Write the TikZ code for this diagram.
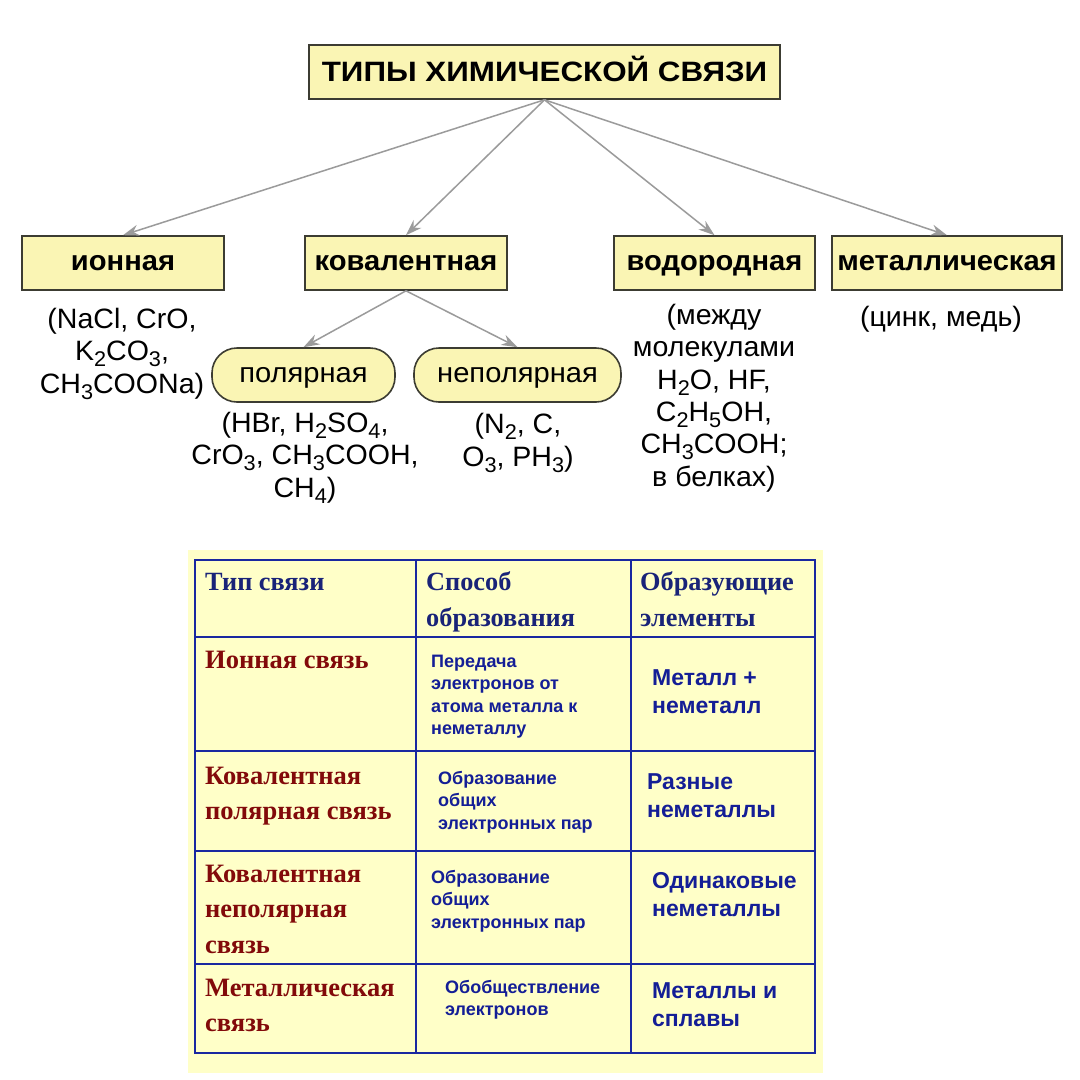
\documentclass[tikz,border=0pt]{standalone}
\usepackage{fontspec}
\usepackage{graphicx}
\setmainfont{Liberation Sans}
\newfontfamily\tnr{Liberation Serif}
\newfontfamily\widesans{Liberation Sans}[FakeStretch=1.12]
\newfontfamily\boxsans{Liberation Sans}[FakeStretch=1.04]
\newfontfamily\exsans{Liberation Sans}[FakeStretch=1.02]
\usetikzlibrary{arrows.meta}
\definecolor{boxfill}{RGB}{250,245,180}
\definecolor{boxdraw}{RGB}{60,60,50}
\definecolor{arrowgray}{RGB}{155,155,155}
\definecolor{tabfill}{RGB}{255,255,200}
\definecolor{tabline}{RGB}{25,40,160}
\definecolor{navy}{RGB}{25,35,120}
\definecolor{tblue}{RGB}{20,30,150}
\definecolor{dred}{RGB}{130,10,10}
\newcommand\sbs[1]{\raisebox{-0.22em}{\scalebox{0.76}{#1}}}
\begin{document}
\begin{tikzpicture}[x=1pt,y=-1pt,
  box/.style={draw=boxdraw, line width=1.6pt, fill=boxfill, minimum height=54pt, inner sep=0pt, text height=20pt, text depth=6pt, font=\boxsans\fontsize{28}{32}\selectfont\bfseries},
  pill/.style={draw=boxdraw, line width=1.6pt, fill=boxfill, rounded corners=25pt, minimum height=54pt, inner sep=0pt, text height=20pt, text depth=5pt, font=\boxsans\fontsize{28}{32}\selectfont},
  ex/.style={align=center, inner sep=0pt, anchor=base, font=\exsans\fontsize{28}{32.3}\selectfont},
  arr/.style={draw=arrowgray, line width=1.5pt, -{Stealth[length=16pt,width=11pt]}},
  th/.style={anchor=base west, align=left, inner sep=0pt, text=navy, font=\tnr\bfseries\fontsize{26.3}{36}\selectfont},
  tr/.style={anchor=base west, align=left, inner sep=0pt, text=dred, font=\tnr\bfseries\fontsize{26.5}{35.5}\selectfont},
  tm/.style={anchor=base west, align=left, inner sep=0pt, text=tblue, font=\bfseries\fontsize{18}{22.5}\selectfont},
  tx/.style={anchor=base west, align=left, inner sep=0pt, text=tblue, font=\bfseries\fontsize{23}{28.5}\selectfont},
  grid/.style={draw=tabline, line width=2.4pt}
]
\useasboundingbox (0,0) rectangle (1080,1080);
\fill[white] (0,0) rectangle (1080,1080);

% top diagram
\node[box, minimum width=471pt, text height=22pt, text depth=4pt, font=\widesans\bfseries\fontsize{28}{32}\selectfont] (title) at (544.5,72) {ТИПЫ ХИМИЧЕСКОЙ СВЯЗИ};
\node[box, minimum width=202pt] (ion) at (123,263) {ионная};
\node[box, minimum width=202pt] (kov) at (406,263) {ковалентная};
\node[box, minimum width=201pt] (vod) at (714.5,263) {водородная};
\node[box, minimum width=230pt] (met) at (947,263) {металлическая};
\node[pill, minimum width=183pt] (pol) at (303.5,375) {полярная};
\node[pill, minimum width=207pt] (npol) at (517.5,375) {неполярная};

\draw[arr] (title.south) -- (ion.north);
\draw[arr] (title.south) -- (kov.north);
\draw[arr] (title.south) -- (vod.north);
\draw[arr] (title.south) -- (met.north);
\draw[arr] (kov.south) -- (pol.north);
\draw[arr] (kov.south) -- (npol.north);

% multi-line nodes: base anchor = baseline of last line
\node[ex] (ionex) at (122,393) {(NaCl, CrO,\\K\sbs{2}CO\sbs{3},\\CH\sbs{3}COONa)};
\node[ex] (polex) at (305,497) {(HBr, H\sbs{2}SO\sbs{4},\\CrO\sbs{3}, CH\sbs{3}COOH,\\CH\sbs{4})};
\node[ex] (npolex) at (518,466) {(N\sbs{2}, C,\\O\sbs{3}, PH\sbs{3})};
\node[ex] (vodex) at (714,486) {(между\\молекулами\\H\sbs{2}O, HF,\\C\sbs{2}H\sbs{5}OH,\\CH\sbs{3}COOH;\\в белках)};
\node[ex] (metex) at (941,326) {(цинк, медь)};

% table
\fill[tabfill] (188,550) rectangle (823,1073);
\draw[grid] (195,560) rectangle (815,1053);
\draw[grid] (416,560) -- (416,1053);
\draw[grid] (631,560) -- (631,1053);
\draw[grid] (195,637) -- (815,637);
\draw[grid] (195,751) -- (815,751);
\draw[grid] (195,851) -- (815,851);
\draw[grid] (195,964) -- (815,964);

\node[th] (h1) at (205,590) {Тип связи};
\node[th] (h2) at (426,626) {Способ\\образования};
\node[th] (h3) at (640,626) {Образующие\\элементы};

\node[tr] (r1a) at (205,668) {Ионная связь};
\node[tm] (r1b) at (431,734.5) {Передача\\электронов от\\атома металла к\\неметаллу};
\node[tx] (r1c) at (652,713.5) {Металл +\\неметалл};

\node[tr] (r2a) at (205,819.5) {Ковалентная\\полярная связь};
\node[tm] (r2b) at (438,829) {Образование\\общих\\электронных пар};
\node[tx] (r2c) at (647,817.5) {Разные\\неметаллы};

\node[tr] (r3a) at (205,953) {Ковалентная\\неполярная\\связь};
\node[tm] (r3b) at (431,928) {Образование\\общих\\электронных пар};
\node[tx] (r3c) at (652,916.5) {Одинаковые\\неметаллы};

\node[tr] (r4a) at (205,1031.5) {Металлическая\\связь};
\node[tm] (r4b) at (445,1015.5) {Обобществление\\электронов};
\node[tx] (r4c) at (652,1026.5) {Металлы и\\сплавы};
\end{tikzpicture}
\end{document}
